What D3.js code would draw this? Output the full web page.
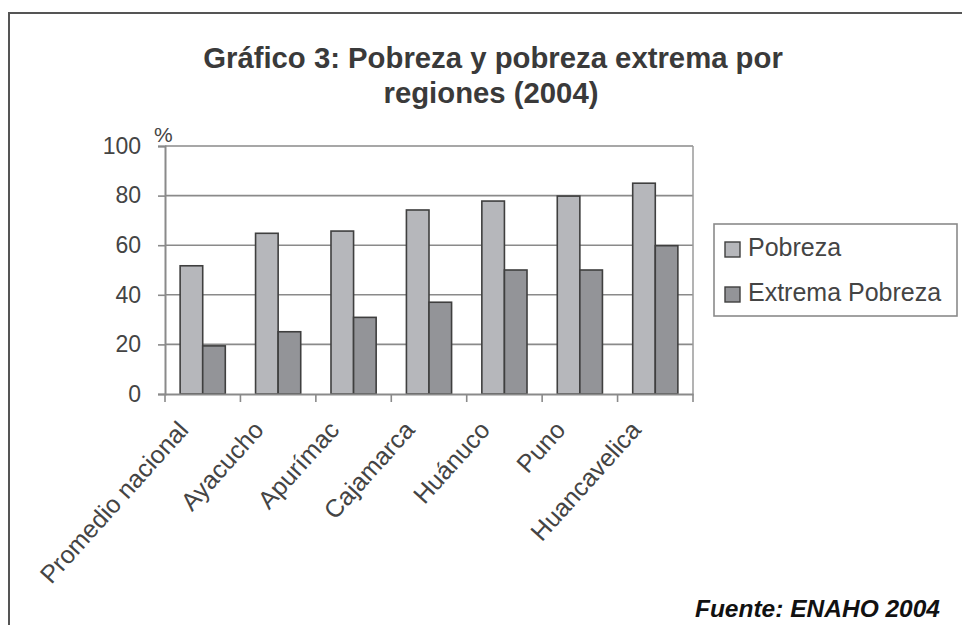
<!DOCTYPE html>
<html>
<head>
<meta charset="utf-8">
<script src="https://cdn.jsdelivr.net/npm/d3@7"></script>
<style>
  body { margin: 0; background: #fff; }
  svg { display: block; font-family: "Liberation Sans", Arial, sans-serif; }
  .tick text { fill: #444; }
</style>
</head>
<body>
<div id="chart"></div>
<script>
// data
const regiones = ["Promedio nacional", "Ayacucho", "Apurímac", "Cajamarca", "Huánuco", "Puno", "Huancavelica"];
const pobreza = [51.7, 64.8, 65.7, 74.2, 77.8, 79.8, 85.0];
const extrema = [19.4, 25.1, 30.9, 37.0, 50.0, 50.0, 59.8];
const series = ["Pobreza", "Extrema Pobreza"];
const yTicks = [0, 20, 40, 60, 80, 100];

const W = 962, H = 625,
  pd = { left: 165, right: 693, top: 146, bottom: 394 },
  colors = { "Pobreza": "#b6b7bb", "Extrema Pobreza": "#939498" };

const rows = regiones.map((r, i) => ({ region: r, "Pobreza": pobreza[i], "Extrema Pobreza": extrema[i] }));

const svg = d3.select("#chart").append("svg").attr("width", W).attr("height", H);

// frame (top + left only)
svg.append("path")
  .attr("d", `M9,${H} L9,13 L${W},13`)
  .attr("fill", "none").attr("stroke", "#555").attr("stroke-width", 2);

// title
const title = svg.append("text")
  .attr("text-anchor", "middle")
  .attr("font-weight", "bold")
  .attr("font-size", 29.3)
  .attr("fill", "#3a3a3a");
title.append("tspan").attr("x", 493).attr("y", 68).text("Gráfico 3: Pobreza y pobreza extrema por");
title.append("tspan").attr("x", 491).attr("y", 103).text("regiones (2004)");

// scales
const x = d3.scaleBand().domain(regiones).range([pd.left, pd.right]).padding(0);
const xs = d3.scaleBand().domain(series).range([0, x.bandwidth()]).paddingInner(0).paddingOuter(0.67);
const y = d3.scaleLinear().domain([0, 100]).range([pd.bottom, pd.top]);

// gridlines
svg.append("g").selectAll("line").data(yTicks.filter(d => d > 0)).join("line")
  .attr("x1", pd.left).attr("x2", pd.right)
  .attr("y1", d => y(d)).attr("y2", d => y(d))
  .attr("stroke", "#8a8a8a").attr("stroke-width", 1.6);

// right border of plot
svg.append("line")
  .attr("x1", pd.right).attr("x2", pd.right)
  .attr("y1", pd.top).attr("y2", pd.bottom)
  .attr("stroke", "#9a9a9a").attr("stroke-width", 1.5);

// bars
const groups = svg.append("g").selectAll("g").data(rows).join("g")
  .attr("transform", d => `translate(${x(d.region)},0)`);
groups.selectAll("rect").data(d => series.map(s => ({ s, v: d[s] }))).join("rect")
  .attr("x", d => xs(d.s))
  .attr("width", xs.bandwidth())
  .attr("y", d => y(d.v))
  .attr("height", d => y(0) - y(d.v))
  .attr("fill", d => colors[d.s])
  .attr("stroke", "#3f3f3f")
  .attr("stroke-width", 1.6);

// y axis
const yAxis = svg.append("g")
  .attr("transform", `translate(${pd.left},0)`)
  .call(d3.axisLeft(y).tickValues(yTicks).tickSize(7).tickPadding(17));
yAxis.select(".domain").attr("stroke", "#8a8a8a").attr("stroke-width", 2);
yAxis.selectAll(".tick line").attr("stroke", "#8a8a8a").attr("stroke-width", 1.6);
yAxis.selectAll(".tick text").attr("font-size", 23).attr("font-family", "Liberation Sans, Arial, sans-serif").attr("fill", "#444");

svg.append("text").attr("x", 154).attr("y", 142)
  .attr("font-size", 21).attr("fill", "#444").text("%");

// x axis: baseline, boundary ticks, rotated labels
const xAxis = svg.append("g")
  .attr("transform", `translate(0,${pd.bottom})`)
  .call(d3.axisBottom(x).tickSize(0).tickFormat(""));
xAxis.select(".domain").attr("stroke", "#8a8a8a").attr("stroke-width", 2);

const edges = regiones.map(r => x(r)).concat([pd.right]);
svg.append("g").selectAll("line").data(edges).join("line")
  .attr("x1", d => d).attr("x2", d => d)
  .attr("y1", pd.bottom).attr("y2", pd.bottom + 8)
  .attr("stroke", "#8a8a8a").attr("stroke-width", 1.6);

svg.append("g").selectAll("text").data(regiones).join("text")
  .attr("transform", d => `translate(${x(d) + x.bandwidth() / 2 - 13},431) rotate(-48)`)
  .attr("text-anchor", "end")
  .attr("font-size", 25)
  .attr("fill", "#444")
  .text(d => d);

// legend
const lg = svg.append("g").attr("transform", "translate(714,224)");
lg.append("rect").attr("width", 243).attr("height", 92)
  .attr("fill", "#fff").attr("stroke", "#8a8a8a").attr("stroke-width", 1.6);
const items = lg.selectAll("g").data(series).join("g")
  .attr("transform", (d, i) => `translate(11,${18 + i * 45})`);
items.append("rect").attr("width", 15).attr("height", 15)
  .attr("fill", d => colors[d]).attr("stroke", "#3f3f3f").attr("stroke-width", 1.4);
items.append("text").attr("x", 23).attr("y", 14)
  .attr("font-size", 25).attr("fill", "#444").text(d => d);

// source
svg.append("text").attr("x", 940).attr("y", 617)
  .attr("text-anchor", "end")
  .attr("font-size", 24.5).attr("font-weight", "bold").attr("font-style", "italic")
  .attr("fill", "#111").text("Fuente: ENAHO 2004");
</script>
</body>
</html>
